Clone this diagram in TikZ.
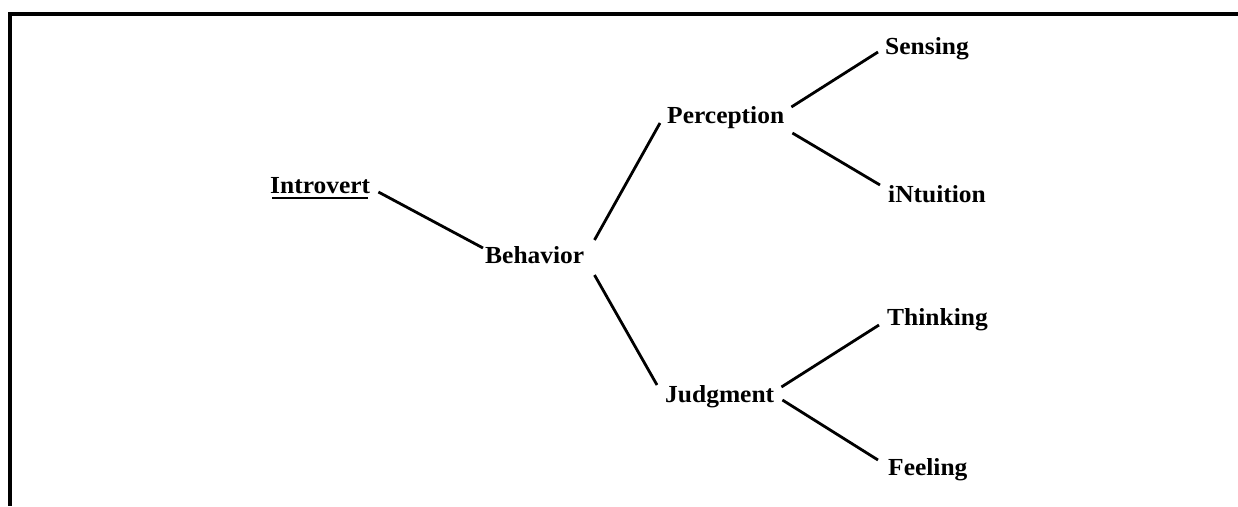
\documentclass[tikz,border=0pt]{standalone}
\usepackage{fontspec}
\setmainfont{Liberation Serif}[FakeStretch=1.04]
\begin{document}
\begin{tikzpicture}[x=1pt,y=-1pt,
  lbl/.style={inner sep=0pt,anchor=base west,font=\fontsize{24.5}{28}\selectfont\bfseries},
  conn/.style={line width=2.8pt},
  frame/.style={line width=4pt}]
\useasboundingbox (0,0) rectangle (1238,506);
\node[lbl] (intro) at (270,193) {Introvert};
\node[lbl] (beh) at (485,263) {Behavior};
\node[lbl] (perc) at (667,123) {Perception};
\node[lbl] (judg) at (665,402) {Judgment};
\node[lbl] (sens) at (885,54) {Sensing};
\node[lbl] (intu) at (888,202) {iNtuition};
\node[lbl] (think) at (887,325) {Thinking};
\node[lbl] (feel) at (888,475) {Feeling};
% underline of Introvert
\draw[line width=2.4pt] ([shift={(2,5)}]intro.base west) -- ([shift={(-2,5)}]intro.base east);
% connectors
\draw[conn] ([shift={(8,-1)}]intro.base east) -- ([shift={(-2,-15)}]beh.base west);
\draw[conn] ([shift={(10,-23)}]beh.base east) -- ([shift={(-7,0)}]perc.base west);
\draw[conn] ([shift={(10,12)}]beh.base east) -- ([shift={(-8,-17)}]judg.base west);
\draw[conn] ([shift={(7,-16)}]perc.base east) -- ([shift={(-7,-2)}]sens.base west);
\draw[conn] ([shift={(8,10)}]perc.base east) -- ([shift={(-8,-17)}]intu.base west);
\draw[conn] ([shift={(7,-15)}]judg.base east) -- ([shift={(-8,0)}]think.base west);
\draw[conn] ([shift={(8,-2)}]judg.base east) -- ([shift={(-10,-15)}]feel.base west);
% frame
\coordinate (tl) at (10,13.5);
\coordinate (tr) at (1238,13.5);
\coordinate (bl) at (10,506);
\draw[frame] (tr) -- (tl) -- (bl);
\end{tikzpicture}
\end{document}
